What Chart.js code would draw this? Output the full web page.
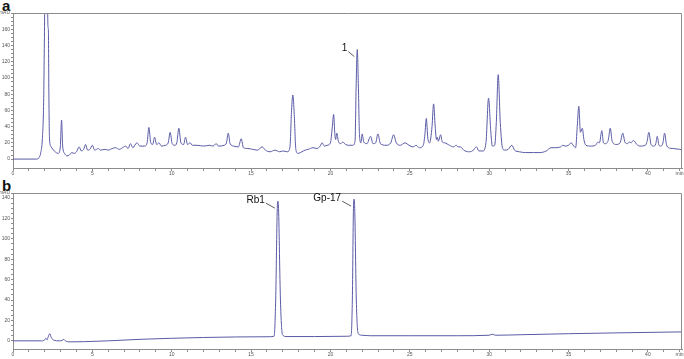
<!DOCTYPE html>
<html>
<head>
<meta charset="utf-8">
<script src="https://cdn.jsdelivr.net/npm/chart.js@4"></script>
<style>
  body { margin: 0; background: #fff; width: 684px; height: 359px; position: relative; overflow: hidden; font-family: "Liberation Sans", Arial, sans-serif; }
  canvas { position: absolute; left: 0; }
  #chartA { top: 0; }
  #chartB { top: 180px; }
  .tag { position: absolute; left: 2px; font-weight: bold; font-size: 15px; line-height: 15px; color: #111; }
</style>
</head>
<body>
<div class="tag" style="top:-2px">a</div>
<div class="tag" style="top:178px">b</div>
<canvas id="chartA" width="684" height="180"></canvas>
<canvas id="chartB" width="684" height="179"></canvas>
<script>
// panel a: retention time (min) and detector signal (mAU)
const timeA = [0, 1.5, 1.65, 1.75, 1.85, 1.93, 1.99, 2.06, 2.13, 2.2, 2.23, 2.26, 2.3, 2.4, 2.6, 2.85, 2.98, 3.06, 3.13, 3.25,
  3.4, 3.55, 3.7, 3.85, 4.0, 4.17, 4.3, 4.45, 4.57, 4.7, 4.85, 5.0, 5.15, 5.37, 5.5, 5.8, 6.0, 6.25, 6.46, 6.7,
  6.9, 7.1, 7.25, 7.4, 7.55, 7.8, 8.0, 8.3, 8.45, 8.56, 8.68, 8.8, 8.92, 9.05, 9.2, 9.35, 9.6, 9.78, 9.9, 10.03,
  10.2, 10.32, 10.45, 10.58, 10.75, 10.87, 11.0, 11.16, 11.3, 11.6, 12.0, 12.4, 12.6, 12.8, 12.95, 13.3, 13.45, 13.56, 13.68, 13.9,
  14.2, 14.38, 14.52, 14.8, 15.1, 15.4, 15.7, 15.9, 16.2, 16.5, 16.8, 17.0, 17.3, 17.45, 17.55, 17.63, 17.72, 17.82, 17.95, 18.2,
  18.4, 18.6, 18.9, 19.15, 19.35, 19.48, 19.62, 19.8, 20.0, 20.12, 20.2, 20.28, 20.33, 20.4, 20.5, 20.65, 20.78, 20.95, 21.15, 21.4,
  21.55, 21.62, 21.69, 21.76, 21.83, 21.92, 22.0, 22.1, 22.3, 22.53, 22.68, 22.85, 22.99, 23.15, 23.5, 23.8, 23.98, 24.15, 24.4, 24.7,
  24.95, 25.2, 25.4, 25.6, 25.85, 25.95, 26.04, 26.14, 26.25, 26.4, 26.5, 26.6, 26.68, 26.73, 26.8, 26.94, 27.05, 27.2, 27.5, 27.75,
  27.93, 28.05, 28.2, 28.4, 28.7, 28.95, 29.2, 29.35, 29.6, 29.8, 29.96, 30.1, 30.2, 30.35, 30.45, 30.57, 30.7, 30.85, 31.0, 31.2,
  31.43, 31.6, 31.9, 32.3, 32.8, 33.2, 33.6, 33.9, 34.2, 34.5, 34.64, 34.8, 35.0, 35.17, 35.33, 35.45, 35.55, 35.65, 35.75, 35.87,
  35.97, 36.1, 36.4, 36.7, 36.85, 36.95, 37.1, 37.2, 37.3, 37.5, 37.63, 37.75, 38.0, 38.25, 38.42, 38.55, 38.7, 38.85, 38.95, 39.08,
  39.16, 39.3, 39.5, 39.85, 39.95, 40.06, 40.2, 40.36, 40.5, 40.59, 40.7, 40.8, 40.95, 41.05, 41.17, 41.3, 41.6, 42.0, 42.25];
const signalA = [0, 0, 2, 8, 25, 70, 170, 290, 290, 165, 158, 80, 25, 15, 10, 7, 15, 48, 16, 7,
  4, 5, 8, 7, 9, 15, 10, 12, 18, 11, 12, 17, 11, 13, 11, 12, 11, 13, 14, 12,
  14, 16, 13, 19, 14, 20, 16, 16, 20, 39, 20, 18, 27, 18, 20, 16, 17, 20, 33, 19,
  17, 20, 38, 20, 18, 27, 18, 20, 17, 17, 16, 17, 16, 19, 16, 17, 20, 32, 19, 16,
  15, 25, 14, 13, 12, 11, 15, 11, 9, 11, 9, 10, 9, 15, 60, 79, 55, 12, 7, 9,
  11, 12, 14, 13, 16, 20, 16, 17, 20, 40, 55, 30, 24, 32, 22, 19, 21, 18, 17, 17,
  22, 90, 135, 90, 30, 20, 31, 21, 19, 28, 19, 20, 31, 19, 17, 20, 30, 20, 17, 20,
  17, 15, 17, 14, 17, 30, 50, 25, 20, 40, 68, 40, 24, 27, 22, 30, 21, 20, 17, 15,
  17, 15, 15, 11, 9, 10, 15, 10, 10, 20, 75, 35, 16, 17, 45, 104, 45, 13, 11, 12,
  17, 11, 9, 8, 8, 8, 10, 14, 14, 15, 17, 16, 17, 20, 16, 14, 40, 65, 33, 38,
  24, 17, 16, 17, 21, 20, 35, 20, 19, 23, 38, 22, 18, 20, 32, 21, 19, 21, 20, 23,
  22, 18, 16, 17, 22, 33, 18, 16, 19, 28, 17, 16, 20, 32, 18, 14, 13, 12, 11];

// panel b
const timeB = [0, 1.8, 2.0, 2.07, 2.15, 2.22, 2.32, 2.42, 2.6, 2.9, 3.1, 3.2, 3.3, 3.6, 4.5, 6, 8, 10, 12, 14,
  16, 16.45, 16.55, 16.65, 16.69, 16.73, 16.85, 16.98, 17.2, 19, 21, 21.3, 21.38, 21.45, 21.49, 21.53, 21.63, 21.75, 22, 22.5,
  25, 28, 30, 30.2, 30.4, 32, 35, 38, 42.25];
const signalB = [0, 0, 1, 2.5, 1, 4, 7, 3, 0.5, 0, 0.5, 1.5, 0, -1, -0.8, 0, 1.5, 2.5, 3.3, 3.8,
  4, 4.5, 40, 130, 137, 130, 40, 6, 4.2, 4.2, 4.5, 5, 40, 130, 139, 130, 40, 7, 5.5, 5,
  5, 5, 5.5, 6.5, 5.5, 6, 7, 7.8, 8.8];

const peakTimesA = [21.69];
const peakNamesA = ['1'];
const peakTimesB = [16.69, 21.49];
const peakNamesB = ['Rb1', 'Gp-17'];

const xTicks = [];
for (let i = 0; i <= 42; i++) xTicks.push(i);
const yTicksA = [];
for (let v = 0; v <= 180; v += 5) yTicksA.push(v);
const yTicksB = [];
for (let v = 0; v <= 140; v += 5) yTicksB.push(v);
yTicksB.push(145);

const lineColor = '#5a5aa6';
const axisColor = '#8c8c8c';
const tickFont = { family: 'Liberation Sans', size: 5 };

const frame = {
  id: 'frame',
  afterDraw(chart) {
    const { ctx, chartArea: a } = chart;
    ctx.save();
    ctx.strokeStyle = axisColor;
    ctx.lineWidth = 1;
    ctx.beginPath();
    ctx.moveTo(a.left, a.top + 0.5);
    ctx.lineTo(a.right - 0.5, a.top + 0.5);
    ctx.lineTo(a.right - 0.5, a.bottom);
    ctx.stroke();
    ctx.restore();
  }
};

const peakLabels = {
  id: 'peakLabels',
  afterDraw(chart, args, opts) {
    const { ctx } = chart;
    const xs = chart.scales.x, ys = chart.scales.y;
    ctx.save();
    ctx.font = '10px "Liberation Sans", Arial, sans-serif';
    ctx.fillStyle = '#111';
    ctx.strokeStyle = '#333';
    ctx.lineWidth = 0.8;
    ctx.textAlign = 'right';
    ctx.textBaseline = 'middle';
    opts.times.forEach((t, i) => {
      const idx = opts.xs.indexOf(t);
      const px = xs.getPixelForValue(t);
      const py = ys.getPixelForValue(opts.ys[idx]);
      ctx.beginPath();
      ctx.moveTo(px - opts.lineFrom, py + 2);
      ctx.lineTo(px - 3, py + 7);
      ctx.stroke();
      ctx.fillText(opts.names[i], px - opts.lineFrom - 1, py - 1);
    });
    ctx.restore();
  }
};

function makeChart(id, xs, ys, yMin, yMax, yTicks, topTick, xHeight, pad, peaks) {
  return new Chart(document.getElementById(id), {
    type: 'line',
    data: {
      datasets: [{
        data: xs.map((x, i) => ({ x: x, y: ys[i] })),
        borderColor: lineColor,
        borderWidth: 1,
        pointRadius: 0,
        cubicInterpolationMode: 'monotone',
        fill: false
      }]
    },
    options: {
      responsive: false,
      animation: false,
      devicePixelRatio: 1,
      layout: { padding: pad },
      plugins: {
        legend: { display: false },
        tooltip: { enabled: false },
        peakLabels: peaks
      },
      scales: {
        x: {
          type: 'linear',
          min: 0,
          max: 42.15,
          afterBuildTicks: (axis) => { axis.ticks = xTicks.map(v => ({ value: v })); },
          afterFit: (axis) => { axis.height = xHeight; },
          border: { color: axisColor },
          grid: { drawOnChartArea: false, tickLength: 3, color: axisColor },
          ticks: {
            autoSkip: false, maxRotation: 0, padding: 0, color: '#555', font: tickFont,
            callback: (v) => v === 42 ? 'min' : (v % 5 === 0 ? v : '')
          }
        },
        y: {
          min: yMin,
          max: yMax,
          afterBuildTicks: (axis) => { axis.ticks = yTicks.map(v => ({ value: v })); },
          afterFit: (axis) => { axis.width = 13; },
          border: { color: axisColor },
          grid: { drawOnChartArea: false, tickLength: 2, color: axisColor },
          ticks: {
            autoSkip: false, padding: 1, color: '#555', font: tickFont,
            callback: (v) => v === topTick ? 'mAU' : (v % 20 === 0 ? v : '')
          }
        }
      }
    },
    plugins: [frame, peakLabels]
  });
}

makeChart('chartA', timeA, signalA, -11, 180, yTicksA, 180, 11,
  { top: 13, right: 2, bottom: 1, left: 0 },
  { times: peakTimesA, names: peakNamesA, xs: timeA, ys: signalA, lineFrom: 9 });
makeChart('chartB', timeB, signalB, -8, 145, yTicksB, 145, 10,
  { top: 13, right: 2, bottom: 0, left: 0 },
  { times: peakTimesB, names: peakNamesB, xs: timeB, ys: signalB, lineFrom: 12 });
</script>
</body>
</html>
